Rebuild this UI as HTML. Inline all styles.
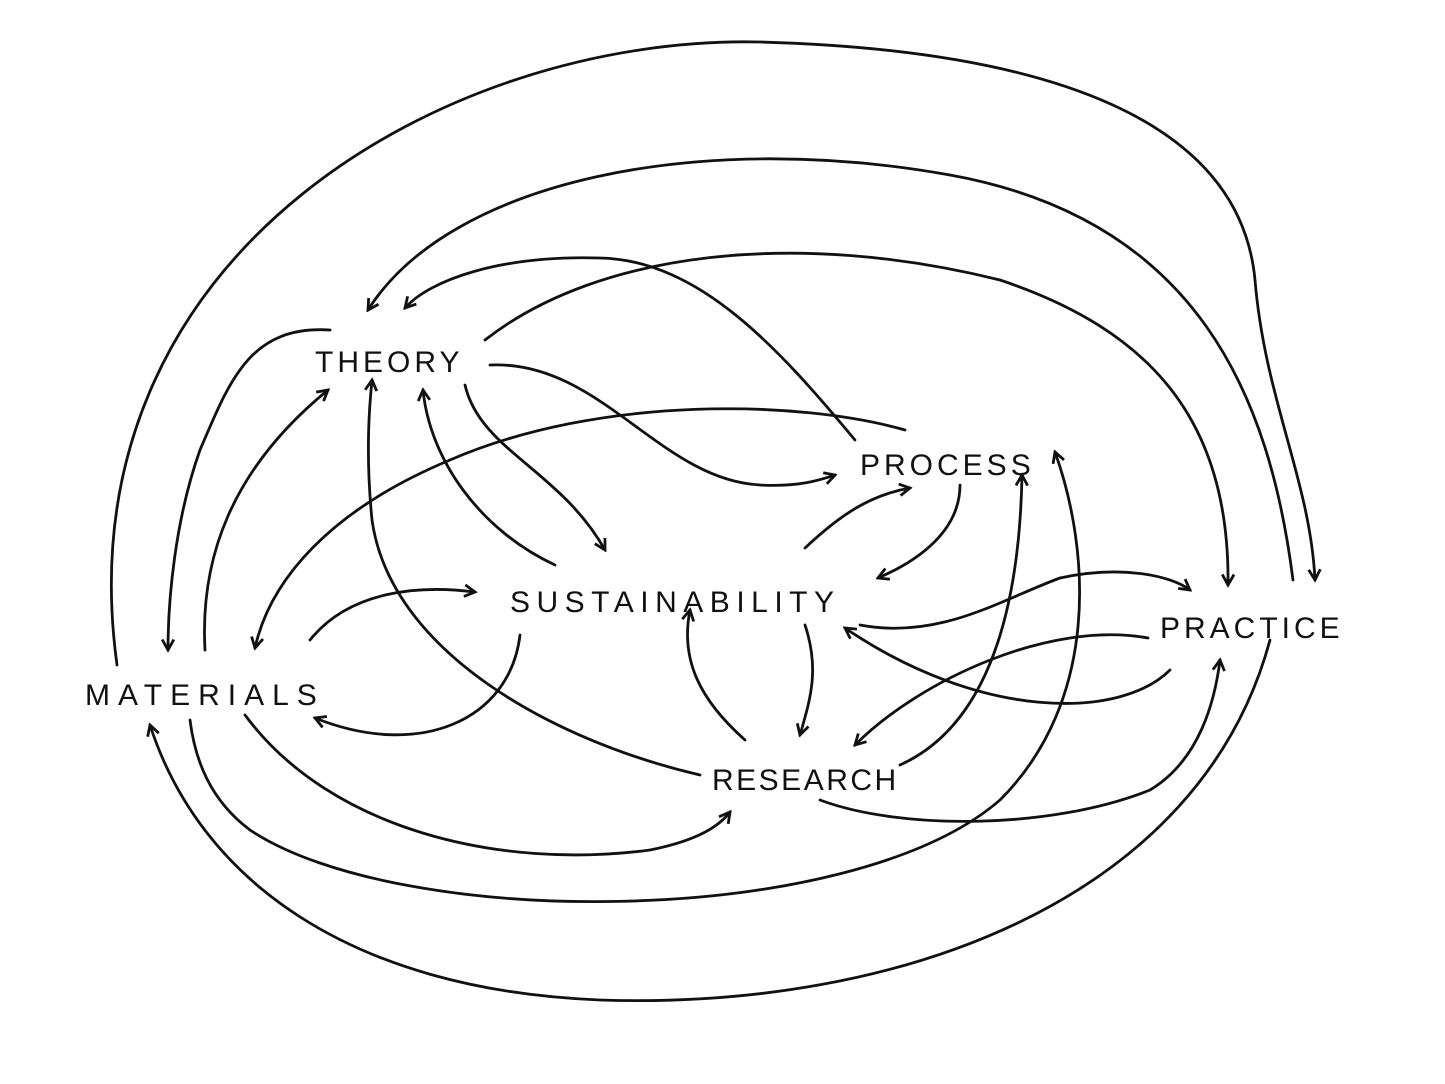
<!DOCTYPE html>
<html><head><meta charset="utf-8"><style>
html,body{margin:0;padding:0;background:#fff;}
svg{display:block;}
text{font-family:"Liberation Sans",sans-serif;font-size:30px;fill:#111;letter-spacing:4px;}
</style></head><body>
<svg width="1445" height="1084" viewBox="0 0 1445 1084" xmlns="http://www.w3.org/2000/svg">
<defs>
<marker id="a" viewBox="0 0 12 12" refX="10" refY="6" markerWidth="14" markerHeight="14" markerUnits="userSpaceOnUse" orient="auto">
<path d="M1,1 L10,6 L1,11" fill="none" stroke="#111" stroke-width="2.4"/>
</marker>
</defs>
<g fill="none" stroke="#111" stroke-width="2.8" stroke-linecap="round" marker-end="url(#a)">
<path d="M117,665 C60,250 450,35 760,42 C1050,50 1240,120 1255,280 C1265,400 1310,480 1315,580"/>
<path d="M1293,580 C1270,400 1200,220 950,175 C700,130 450,180 368,310"/>
<path d="M485,340 C600,250 800,230 1000,280 C1150,330 1230,420 1228,585"/>
<path d="M855,440 C780,350 700,260 600,258 C500,255 430,280 405,308"/>
<path d="M330,330 C250,325 230,380 200,450 C175,520 168,600 168,650"/>
<path d="M205,650 C200,560 230,470 328,390"/>
<path d="M700,775 C550,740 390,650 372,520 C365,450 370,400 372,380"/>
<path d="M555,565 C480,530 430,460 423,390"/>
<path d="M465,385 C480,450 560,470 605,550"/>
<path d="M490,365 C600,360 660,480 760,485 C800,487 820,480 835,475"/>
<path d="M905,430 C800,400 600,395 450,460 C330,510 270,580 255,648"/>
<path d="M805,548 C840,515 870,495 910,488"/>
<path d="M960,485 C960,530 920,560 878,578"/>
<path d="M310,640 C350,590 420,585 475,592"/>
<path d="M520,635 C510,720 420,760 315,718"/>
<path d="M860,625 C940,640 1000,600 1060,578 C1120,565 1170,575 1190,590"/>
<path d="M1170,670 C1120,720 980,720 845,628"/>
<path d="M1148,638 C1050,620 920,680 855,745"/>
<path d="M805,625 C820,670 810,700 800,735"/>
<path d="M745,740 C700,700 680,660 690,610"/>
<path d="M900,765 C1000,720 1020,580 1022,475"/>
<path d="M190,720 C195,760 210,800 250,830 C400,930 850,930 1000,800 C1100,700 1090,550 1055,452"/>
<path d="M1270,640 C1200,900 900,1010 600,1000 C350,990 200,880 150,725"/>
<path d="M245,715 C330,830 500,870 650,850 C700,840 720,825 730,812"/>
<path d="M820,800 C900,830 1050,830 1150,790 C1200,760 1215,700 1220,660"/>
</g>
<text x="315" y="372">THEORY</text>
<text x="860" y="475">PROCESS</text>
<text x="510" y="612" style="letter-spacing:6.5px">SUSTAINABILITY</text>
<text x="1160" y="638">PRACTICE</text>
<text x="85" y="705" style="letter-spacing:8px">MATERIALS</text>
<text x="712" y="790" style="letter-spacing:2.5px">RESEARCH</text>
</svg>
</body></html>
